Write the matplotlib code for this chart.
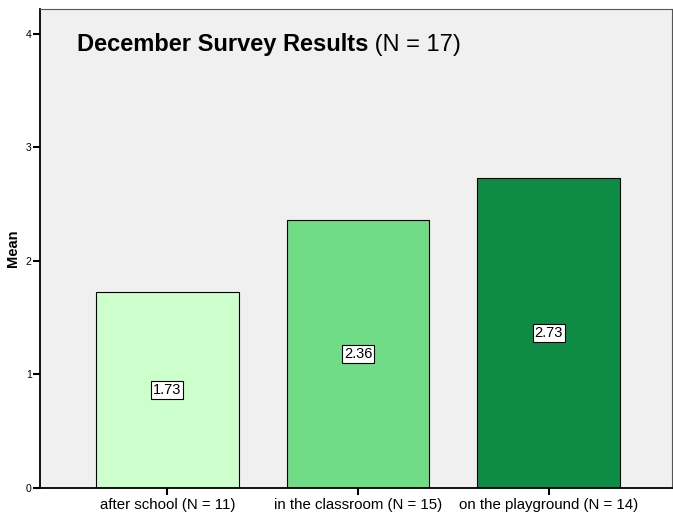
import matplotlib.pyplot as plt

categories = ["after school (N = 11)", "in the classroom (N = 15)", "on the playground (N = 14)"]
means = [1.73, 2.36, 2.73]
colors = ["#CCFFCC", "#70DC86", "#0E8C46"]
yticks = [0, 1, 2, 3, 4]

plt.rcParams["font.family"] = ["Liberation Sans", "DejaVu Sans"]

fig = plt.figure(figsize=(6.73, 5.14), dpi=100)
ax = fig.add_axes([40 / 673, 26 / 514, 632 / 673, 479 / 514])
ax.set_facecolor("#F0F0F0")

x = list(range(len(categories)))
ax.bar(x, means, width=0.75, color=colors, edgecolor="black", linewidth=0.8)

for xi, m in zip(x, means):
    ax.text(xi, m / 2, f"{m:.2f}", ha="center", va="center", fontsize=10.5,
            bbox=dict(boxstyle="square,pad=0.12", facecolor="white",
                      edgecolor="black", linewidth=0.8))

ax.set_xlim(-0.668, 2.647)
ax.set_ylim(0, 4.22)
ax.set_xticks(x)
ax.set_xticklabels(categories, fontsize=10.8)
ax.set_yticks(yticks)
ax.set_yticklabels([str(t) for t in yticks], fontsize=7.5)
ax.tick_params(axis="both", direction="out", length=5, width=1.5)
ax.tick_params(axis="y", pad=1)
ax.tick_params(axis="x", pad=2)
ax.set_ylabel("Mean", fontsize=10.5, fontweight="bold", labelpad=4)

for side in ["top", "right"]:
    ax.spines[side].set_color("#555555")
    ax.spines[side].set_linewidth(0.8)
for side in ["left", "bottom"]:
    ax.spines[side].set_linewidth(1.3)

t1 = ax.text(37 / 632, 0.925, "December Survey Results", transform=ax.transAxes,
             fontsize=17, fontweight="bold", ha="left", va="center")
ax.annotate(" (N = 17)", xy=(1, 0), xycoords=t1, fontsize=17,
            ha="left", va="bottom")

fig.savefig("out.png", dpi=100)
